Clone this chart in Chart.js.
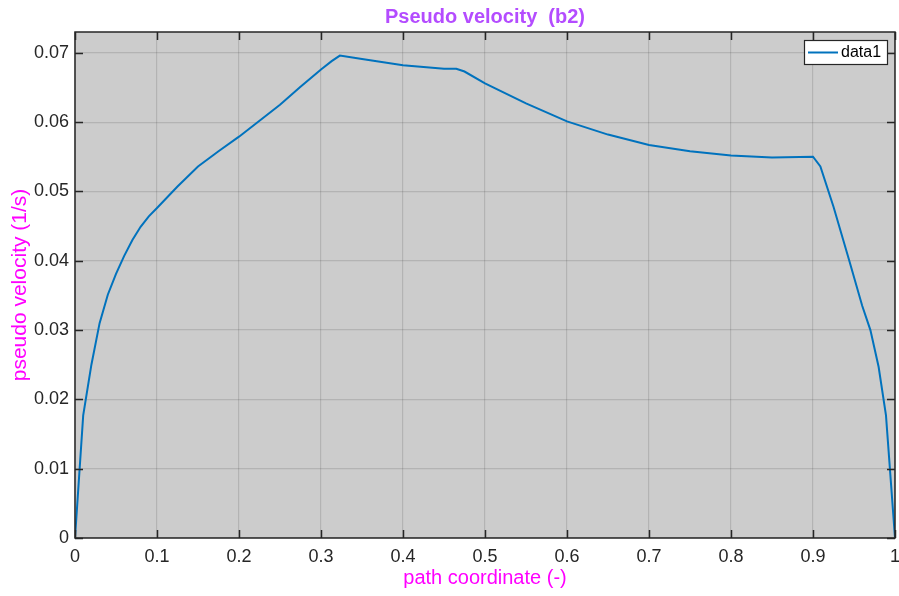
<!DOCTYPE html>
<html>
<head>
<meta charset="utf-8">
<script src="https://cdn.jsdelivr.net/npm/chart.js@4"></script>
<style>
  html, body { margin: 0; padding: 0; background: #fff; }
  #wrap { width: 899px; height: 596px; }
</style>
</head>
<body>
<div id="wrap"><canvas id="chart" width="899" height="596"></canvas></div>
<script>
// path coordinate (-) and pseudo velocity (1/s)
const pathCoord = [0, 0.01, 0.02, 0.03, 0.04, 0.05, 0.06, 0.07, 0.08, 0.09, 0.1, 0.125, 0.15, 0.175, 0.2, 0.25, 0.275, 0.3,
  0.313, 0.323, 0.35, 0.4, 0.45, 0.465, 0.475, 0.5, 0.55, 0.6, 0.65, 0.7, 0.75, 0.8, 0.85, 0.9,
  0.909, 0.925, 0.944, 0.96, 0.97, 0.98, 0.989, 1];
const pseudoVel = [0, 0.0177, 0.0250, 0.0310, 0.0351, 0.0381, 0.0407, 0.0430, 0.0449, 0.0464, 0.0476, 0.0507, 0.0536, 0.0558, 0.0579, 0.0625, 0.0651, 0.0676,
  0.0688, 0.0696, 0.0691, 0.0682, 0.0677, 0.0677, 0.0673, 0.0656, 0.0627, 0.0601, 0.0582, 0.0567, 0.0558, 0.0552, 0.0549, 0.0550,
  0.0536, 0.0478, 0.0401, 0.0335, 0.0300, 0.0247, 0.0177, 0];
const xTicks = [0, 0.1, 0.2, 0.3, 0.4, 0.5, 0.6, 0.7, 0.8, 0.9, 1];
const yTicks = [0, 0.01, 0.02, 0.03, 0.04, 0.05, 0.06, 0.07];

const axisColor = '#262626';
const FONT = '"Liberation Sans", Arial, Helvetica, sans-serif';

/* ========= background, box, inner ticks, legend ========= */
const matlabAxes = {
  id: 'matlabAxes',
  beforeDraw(chart) {
    const { ctx, chartArea: a } = chart;
    ctx.save();
    ctx.fillStyle = '#cccccc';
    ctx.fillRect(a.left, a.top, a.right - a.left, a.bottom - a.top);
    ctx.restore();
  },
  afterDatasetsDraw(chart) {
    const { ctx, chartArea: a, scales } = chart;
    const len = 8;
    ctx.save();
    ctx.strokeStyle = axisColor;
    ctx.lineWidth = 1.5;
    ctx.beginPath();
    xTicks.forEach(v => {
      const px = Math.round(scales.x.getPixelForValue(v)) + 0.5;
      ctx.moveTo(px, a.bottom); ctx.lineTo(px, a.bottom - len);
      ctx.moveTo(px, a.top); ctx.lineTo(px, a.top + len);
    });
    yTicks.forEach(v => {
      const py = Math.round(scales.y.getPixelForValue(v)) + 0.5;
      ctx.moveTo(a.left, py); ctx.lineTo(a.left + len, py);
      ctx.moveTo(a.right, py); ctx.lineTo(a.right - len, py);
    });
    ctx.stroke();
    ctx.strokeRect(a.left, a.top, a.right - a.left, a.bottom - a.top);

    // legend box, top right inside the axes
    const ds = chart.data.datasets[0];
    const bw = 83, bh = 24;
    const bx = a.right - 8 - bw, by = a.top + 8;
    ctx.fillStyle = '#ffffff';
    ctx.fillRect(bx, by, bw, bh);
    ctx.lineWidth = 1.2;
    ctx.strokeStyle = axisColor;
    ctx.strokeRect(bx + 0.5, by + 0.5, bw, bh);
    ctx.strokeStyle = ds.borderColor;
    ctx.lineWidth = 2;
    ctx.beginPath();
    ctx.moveTo(bx + 4, by + bh / 2 + 0.5);
    ctx.lineTo(bx + 34, by + bh / 2 + 0.5);
    ctx.stroke();
    ctx.fillStyle = '#000';
    ctx.font = '16px ' + FONT;
    ctx.textBaseline = 'middle';
    ctx.fillText(ds.label, bx + 37, by + bh / 2 + 1);
    ctx.restore();
  }
};

new Chart(document.getElementById('chart'), {
  type: 'scatter',
  data: {
    datasets: [{
      label: 'data1',
      data: pathCoord.map((x, i) => ({ x, y: pseudoVel[i] })),
      showLine: true,
      borderColor: '#0072bd',
      borderWidth: 2,
      pointRadius: 0,
      tension: 0
    }]
  },
  options: {
    responsive: false,
    animation: false,
    layout: { padding: { left: 0, right: 4, top: 0, bottom: 0 } },
    plugins: {
      legend: { display: false },
      tooltip: { enabled: false },
      title: {
        display: true,
        fullSize: false,
        text: 'Pseudo velocity  (b2)',
        color: '#b44cff',
        font: { family: FONT, size: 20, weight: 'bold' },
        padding: { top: 5, bottom: 3 }
      }
    },
    scales: {
      x: {
        type: 'linear',
        min: 0, max: 1,
        afterFit(s) { s.height = 58; s.paddingLeft = 0; s.paddingRight = 0; },
        afterBuildTicks(s) { s.ticks = xTicks.map(v => ({ value: v })); },
        ticks: {
          color: axisColor,
          font: { family: FONT, size: 18 },
          padding: 8,
          maxRotation: 0,
          callback: v => String(v)
        },
        grid: { color: 'rgba(38,38,38,0.15)', lineWidth: 1.2, drawTicks: false },
        border: { display: false },
        title: {
          display: true,
          text: 'path coordinate (-)',
          color: '#ff00ff',
          font: { family: FONT, size: 20 },
          padding: { top: 0, bottom: 6 }
        }
      },
      y: {
        type: 'linear',
        min: 0, max: 0.073,
        afterFit(s) { s.width = 75; s.paddingTop = 0; s.paddingBottom = 0; },
        afterBuildTicks(s) { s.ticks = yTicks.map(v => ({ value: v })); },
        ticks: {
          color: axisColor,
          font: { family: FONT, size: 18 },
          padding: 6,
          callback: v => String(v)
        },
        grid: { color: 'rgba(38,38,38,0.15)', lineWidth: 1.2, drawTicks: false },
        border: { display: false },
        title: {
          display: true,
          text: 'pseudo velocity (1/s)',
          color: '#ff00ff',
          font: { family: FONT, size: 21 },
          padding: { top: 8, bottom: 0 }
        }
      }
    }
  },
  plugins: [matlabAxes]
});
</script>
</body>
</html>
